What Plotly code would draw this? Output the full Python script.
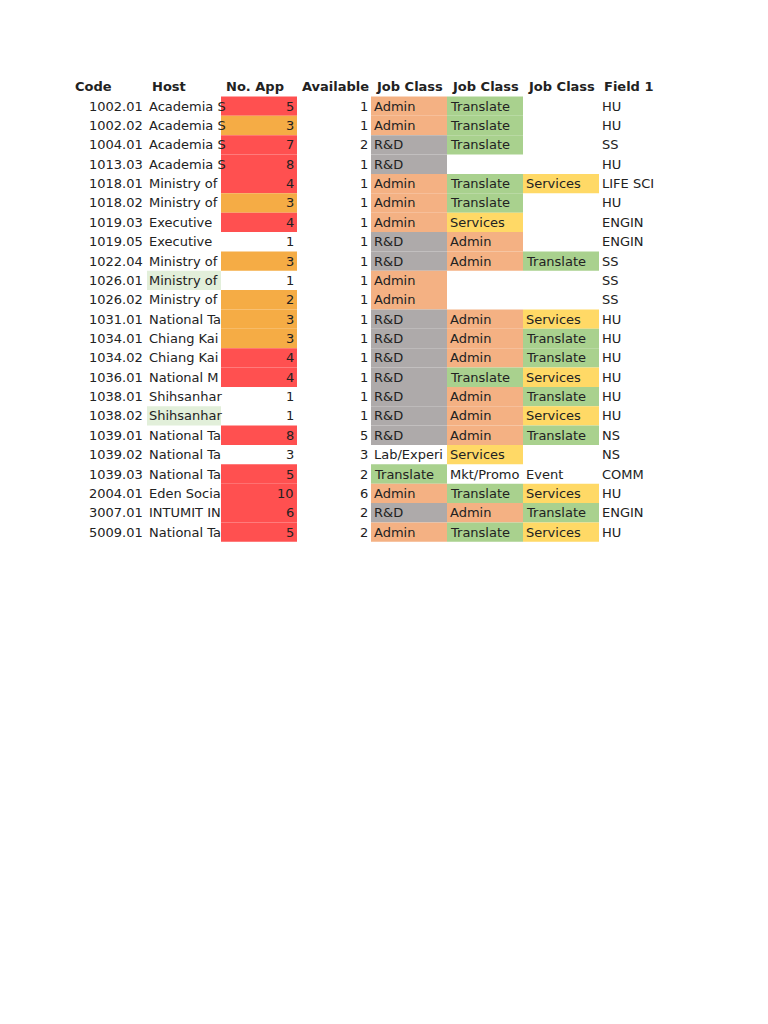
import plotly.graph_objects as go

headers = ["Code", "Host", "No. App", "Available", "Job Class", "Job Class", "Job Class", "Field 1"]
codes = ["1002.01","1002.02","1004.01","1013.03","1018.01","1018.02","1019.03","1019.05","1022.04","1026.01","1026.02",
         "1031.01","1034.01","1034.02","1036.01","1038.01","1038.02","1039.01","1039.02","1039.03","2004.01","3007.01","5009.01"]
hosts = ["Academia S","Academia S","Academia S","Academia S","Ministry of","Ministry of","Executive","Executive","Ministry of",
         "Ministry of","Ministry of","National Ta","Chiang Kai","Chiang Kai","National M","Shihsanhar","Shihsanhar",
         "National Ta","National Ta","National Ta","Eden Socia","INTUMIT IN","National Ta"]
host_hl = [0,0,0,0,0,0,0,0,0,1,0,0,0,0,0,0,1,0,0,0,0,0,0]
no_app = [5,3,7,8,4,3,4,1,3,1,2,3,3,4,4,1,1,8,3,5,10,6,5]
no_app_lvl = ["r","o","r","r","r","o","r","","o","","o","o","o","r","r","","","r","","r","r","r","r"]
available = [1,1,2,1,1,1,1,1,1,1,1,1,1,1,1,1,1,5,3,2,6,2,2]
job1 = ["Admin","Admin","R&D","R&D","Admin","Admin","Admin","R&D","R&D","Admin","Admin","R&D","R&D","R&D","R&D","R&D","R&D",
        "R&D","Lab/Experi","Translate","Admin","R&D","Admin"]
job2 = ["Translate","Translate","Translate","","Translate","Translate","Services","Admin","Admin","","","Admin","Admin","Admin",
        "Translate","Admin","Admin","Admin","Services","Mkt/Promo","Translate","Admin","Translate"]
job3 = ["","","","","Services","","","","Translate","","","Services","Translate","Translate","Services","Translate","Services",
        "Translate","","Event","Services","Translate","Services"]
field1 = ["HU","HU","SS","HU","LIFE SCI","HU","ENGIN","ENGIN","SS","SS","SS","HU","HU","HU","HU","HU","HU","NS","NS","COMM",
          "HU","ENGIN","HU"]

job_col = {"Admin":"#f4b183","Translate":"#a9d18e","Services":"#ffd966","R&D":"#aeaaaa"}
lvl_col = {"r":"#ff5050","o":"#f5ac45"}
FONT = dict(family="DejaVu Sans", size=13, color="#222")

top0, rh = 88.5, 19.36
colx = [62, 139, 213, 289, 363, 439, 515, 591, 660]

shapes, ann = [], []
def rect(x0, x1, y0, y1, c):
    shapes.append(dict(type="rect", xref="x", yref="y", x0=x0, x1=x1, y0=y0, y1=y1, fillcolor=c, line_width=0, layer="below"))
def txt(x, y, t, anchor="left", bold=False):
    ann.append(dict(xref="x", yref="y", x=x, y=y, text=("<b>%s</b>" % t) if bold else t, showarrow=False,
                    xanchor=anchor, yanchor="middle", font=FONT))

for j, h in enumerate(headers):
    txt(colx[j] + 3, 78, h, bold=True)

for i in range(len(codes)):
    y0 = top0 + rh * i; y1 = y0 + rh; yc = (y0 + y1) / 2
    txt(137, yc, codes[i], "right")
    if host_hl[i]:
        rect(139, 213, y0, y1, "#e2efda")
    txt(139, yc, hosts[i].replace(" ", "&nbsp;"))
    if no_app_lvl[i]:
        rect(213, 289, y0, y1, lvl_col[no_app_lvl[i]])
    txt(288, yc, str(no_app[i]), "right")
    txt(362, yc, str(available[i]), "right")
    for k, jv in enumerate([job1[i], job2[i], job3[i]]):
        x0 = colx[4 + k]
        if jv in job_col:
            rect(x0, x0 + 76, y0, y1, job_col[jv])
        if jv:
            txt(x0 + 1, yc, jv)
    txt(592, yc, field1[i])

fig = go.Figure()
fig.update_layout(width=768, height=1024, margin=dict(l=0, r=0, t=0, b=0), paper_bgcolor="white", plot_bgcolor="white",
                  shapes=shapes, annotations=ann, showlegend=False,
                  xaxis=dict(range=[0, 768], visible=False, fixedrange=True),
                  yaxis=dict(range=[1024, 0], visible=False, fixedrange=True))
fig.write_html("out.html")
